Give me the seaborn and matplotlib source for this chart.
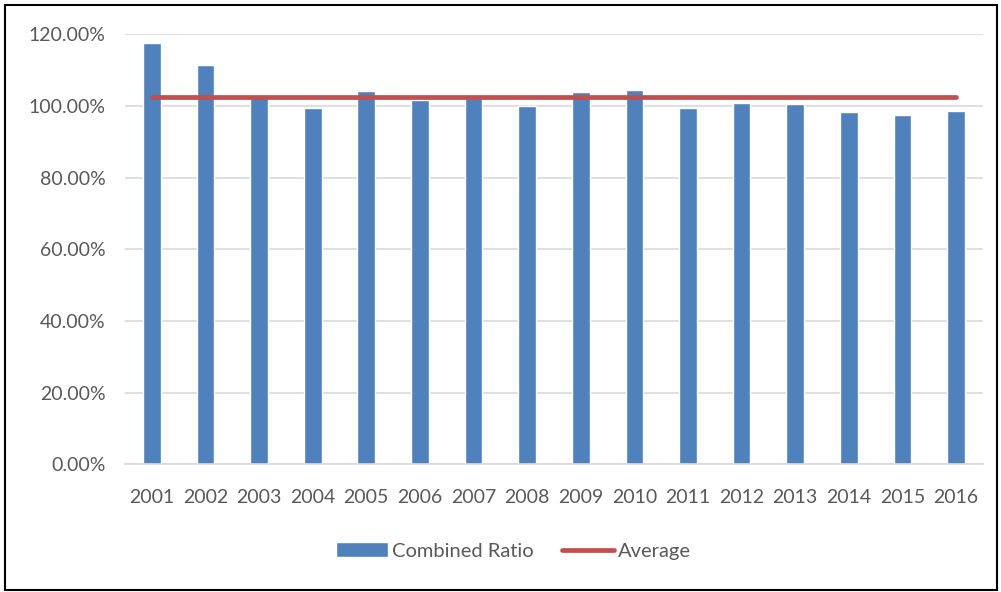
import pandas as pd
import matplotlib
matplotlib.use("Agg")
import matplotlib.pyplot as plt
import seaborn as sns
from matplotlib.patches import Rectangle

# Chart values
years = ["2001", "2002", "2003", "2004", "2005", "2006", "2007", "2008",
         "2009", "2010", "2011", "2012", "2013", "2014", "2015", "2016"]
combined_ratio = [117.5, 111.4, 102.5, 99.4, 104.1, 101.6, 102.3, 100.1,
                  103.8, 104.5, 99.4, 100.8, 100.5, 98.3, 97.6, 98.7]
y_ticks = [0, 20, 40, 60, 80, 100, 120]

df = pd.DataFrame({"Year": years, "Combined Ratio": combined_ratio})
average = df["Combined Ratio"].mean()

sns.set_style("white")
plt.rcParams["font.family"] = ["Lato", "DejaVu Sans"]

bar_color = "#4F81BD"
line_color = "#C0504D"
text_color = "#595959"

fig = plt.figure(figsize=(10.01, 5.92), dpi=100)
ax = fig.add_axes([0.1249, 0.2154, 0.857, 0.7266])

sns.barplot(data=df, x="Year", y="Combined Ratio", color=bar_color,
            width=0.33, saturation=1, ax=ax, label="Combined Ratio", zorder=2)
ax.plot(range(len(years)), [average] * len(years), color=line_color,
        linewidth=3.4, solid_capstyle="round", label="Average", zorder=3)

ax.set_xlim(-0.5, len(years) - 0.5)
ax.set_ylim(0, 120)
ax.set_yticks(y_ticks)
ax.set_yticklabels([f"{v:.2f}%" for v in y_ticks])
ax.yaxis.grid(True, color="#D9D9D9", linewidth=1.2, zorder=0)
ax.set_axisbelow(True)
for side in ["top", "right", "left"]:
    ax.spines[side].set_visible(False)
ax.spines["bottom"].set_color("#D9D9D9")
ax.spines["bottom"].set_linewidth(1.2)
ax.tick_params(axis="both", length=0, labelsize=14, labelcolor=text_color)
ax.tick_params(axis="x", pad=18)
ax.tick_params(axis="y", pad=14)
ax.set_xlabel("")
ax.set_ylabel("")
if ax.get_legend() is not None:
    ax.get_legend().remove()

handles, labels = ax.get_legend_handles_labels()
order = [labels.index("Combined Ratio"), labels.index("Average")]
fig.legend([handles[i] for i in order], [labels[i] for i in order],
           loc="center", bbox_to_anchor=(0.513, 0.069),
           ncol=2, frameon=False, fontsize=14.5, labelcolor=text_color,
           handlelength=2.6, handleheight=0.75, handletextpad=0.2,
           columnspacing=1.4)

fig.patches.append(Rectangle((5 / 1001, 2 / 592), 992 / 1001, 585 / 592,
                             transform=fig.transFigure, fill=False,
                             edgecolor="black", linewidth=1.5))

fig.savefig("out.png", dpi=100)
